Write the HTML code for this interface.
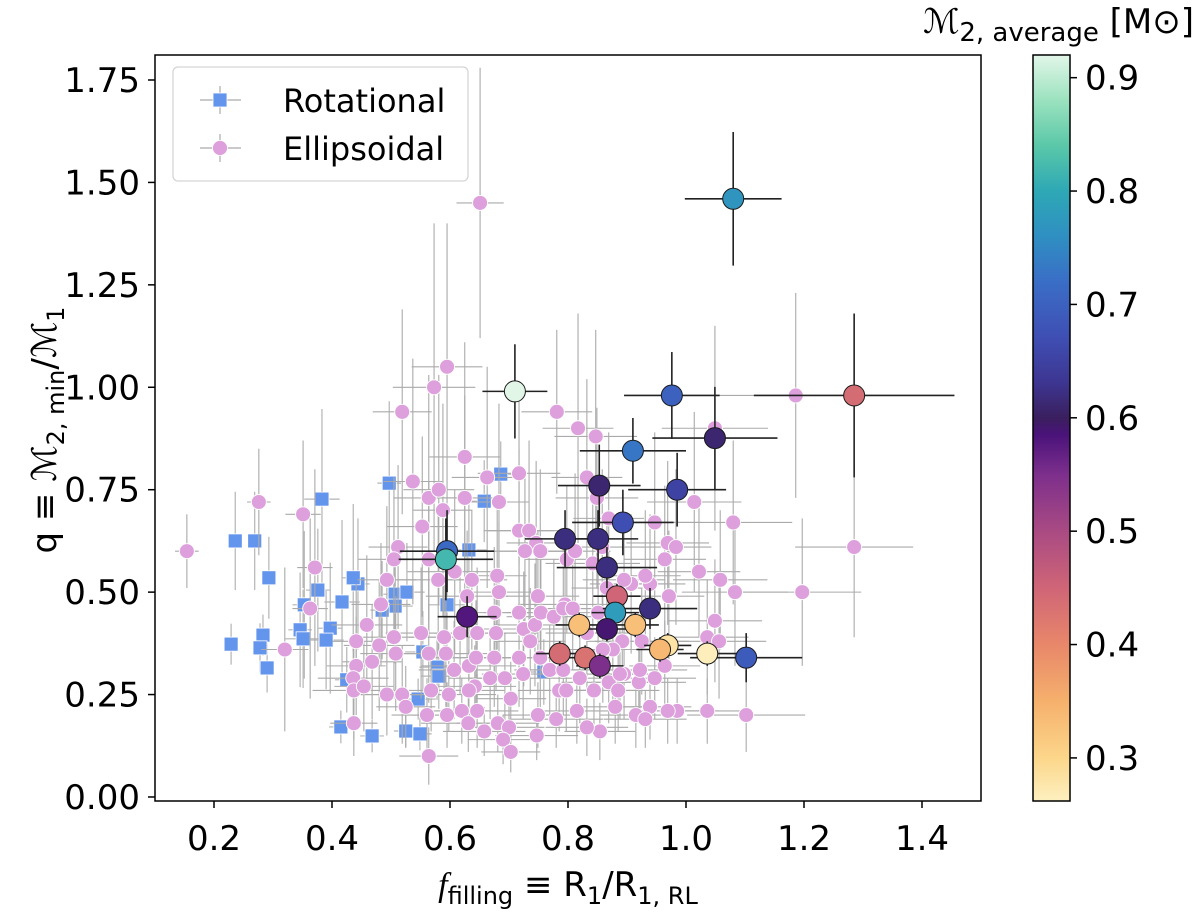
<!DOCTYPE html>
<html><head><meta charset="utf-8"><style>
html,body{margin:0;padding:0;background:#fff;}
svg{display:block;font-family:"DejaVu Sans","Liberation Sans",sans-serif;}
</style></head><body>
<svg id="chart" width="1200" height="912" viewBox="0 0 1200 912" xmlns="http://www.w3.org/2000/svg">
<defs>
<linearGradient id="cgrad" x1="0" y1="0" x2="0" y2="1"></linearGradient>
<clipPath id="plotclip"><rect x="155" y="55" width="826" height="746"/></clipPath>
</defs>
<rect x="0" y="0" width="1200" height="912" fill="#fff"/>
<g id="errs-rot" clip-path="url(#plotclip)"></g>
<g id="marks-rot"></g>
<g id="errs-ell" clip-path="url(#plotclip)"></g>
<g id="marks-ell"></g>
<g id="errs-big" clip-path="url(#plotclip)"></g>
<g id="marks-big"></g>
<rect x="155" y="55" width="826" height="746" fill="none" stroke="#000" stroke-width="1.5"/>
<g id="xticks"></g>
<g id="yticks"></g>
<text x="568" y="896" text-anchor="middle" font-size="34"><tspan font-style="italic" font-family="Liberation Serif, DejaVu Serif, serif">f</tspan><tspan font-size="24" dy="8">filling</tspan><tspan dy="-8"> ≡ R</tspan><tspan font-size="24" dy="8">1</tspan><tspan dy="-8">/R</tspan><tspan font-size="24" dy="8">1, RL</tspan></text>
<text transform="translate(56,430) rotate(-90)" text-anchor="middle" font-size="34">q ≡ <tspan font-style="italic">ℳ</tspan><tspan font-size="24" dy="8">2, min</tspan><tspan dy="-8">/</tspan><tspan font-style="italic">ℳ</tspan><tspan font-size="24" dy="8">1</tspan></text>
<g>
<rect x="173" y="67" width="295" height="114" rx="5" fill="#fff" fill-opacity="0.85" stroke="#d5d5d5" stroke-width="1.3"/>
<g>
<line x1="200" y1="100" x2="241" y2="100" stroke="#aaa" stroke-width="1.2"/><line x1="220" y1="86" x2="220" y2="114" stroke="#aaa" stroke-width="1.2"/>
<rect x="213" y="93" width="14" height="14" fill="#6495ed" stroke="#fff" stroke-width="0.8"/>
<text x="283" y="112" font-size="32">Rotational</text></g>
<g>
<line x1="200" y1="148" x2="241" y2="148" stroke="#aaa" stroke-width="1.2"/><line x1="220" y1="134" x2="220" y2="162" stroke="#aaa" stroke-width="1.2"/>
<circle cx="220" cy="148" r="7.5" fill="#dda0dd" stroke="#fff" stroke-width="0.8"/>
<text x="283" y="160" font-size="32">Ellipsoidal</text></g>
</g>
<g>
<rect x="1033" y="55" width="37" height="746" fill="url(#cgrad)" stroke="#000" stroke-width="1.5"/>
<g id="cticks"></g>
<text x="1194" y="33" text-anchor="end" font-size="34"><tspan font-style="italic">ℳ</tspan><tspan font-size="26" dy="8">2, average</tspan><tspan dy="-8"> [M⊙]</tspan></text>
</g>
</svg>
<script>
// ---- data ----
const xTicks = [0.2,0.4,0.6,0.8,1.0,1.2,1.4];
const xTickLabels = ["0.2","0.4","0.6","0.8","1.0","1.2","1.4"];
const yTicks = [0,0.25,0.5,0.75,1.0,1.25,1.5,1.75];
const yTickLabels = ["0.00","0.25","0.50","0.75","1.00","1.25","1.50","1.75"];
const cTicks = [0.3,0.4,0.5,0.6,0.7,0.8,0.9];
const cTickLabels = ["0.3","0.4","0.5","0.6","0.7","0.8","0.9"];

const rotX = [0.236,0.269,0.293,0.383,0.376,0.353,0.417,0.444,0.436,0.497,
  0.507,0.527,0.507,0.485,0.595,0.632,0.658,0.686,0.229,0.283,
  0.278,0.290,0.346,0.351,0.397,0.390,0.554,0.578,0.581,0.546,
  0.759,0.415,0.468,0.525,0.549,0.425,0.593];
const rotY = [0.625,0.625,0.535,0.727,0.505,0.469,0.476,0.520,0.535,0.766,
  0.495,0.500,0.466,0.456,0.469,0.603,0.722,0.788,0.373,0.395,
  0.364,0.315,0.408,0.386,0.412,0.383,0.354,0.317,0.295,0.239,
  0.305,0.171,0.149,0.161,0.154,0.286,0.591];
const rotXerr = [0.01,0.01,0.01,0.03,0.02,0.02,0.03,0.02,0.02,0.02,
  0.02,0.03,0.03,0.02,0.03,0.03,0.03,0.03,0.01,0.01,
  0.01,0.01,0.02,0.03,0.02,0.03,0.03,0.03,0.03,0.03,
  0.03,0.02,0.02,0.02,0.02,0.02,0.02];
const rotYerr = [0.12,0.12,0.10,0.22,0.15,0.18,0.20,0.16,0.18,0.20,
  0.12,0.12,0.14,0.12,0.10,0.12,0.10,0.08,0.05,0.05,
  0.06,0.06,0.14,0.12,0.16,0.12,0.10,0.08,0.08,0.05,
  0.08,0.04,0.04,0.04,0.04,0.08,0.06];

const ellX = [0.154,0.276,0.351,0.371,0.320,0.363,0.519,0.573,0.595,0.625,
  0.537,0.564,0.581,0.588,0.625,0.663,0.683,0.717,0.781,0.553,
  0.512,0.505,0.564,0.493,0.483,0.459,0.441,0.480,0.468,0.505,
  0.508,0.441,0.436,0.437,0.454,0.493,0.519,0.525,0.561,0.437,
  0.564,0.551,0.580,0.608,0.637,0.629,0.590,0.617,0.646,0.564,
  0.593,0.607,0.632,0.644,0.675,0.678,0.680,0.683,0.675,0.668,
  0.693,0.717,0.717,0.725,0.744,0.736,0.749,0.754,0.776,0.724,
  0.703,0.642,0.632,0.598,0.568,0.620,0.646,0.595,0.631,0.681,
  0.700,0.658,0.690,0.703,0.747,0.749,0.780,0.785,0.769,0.753,
  0.717,0.734,0.746,0.727,0.753,0.795,0.817,0.847,0.832,0.849,
  0.869,0.947,0.969,0.983,0.964,1.014,1.049,1.080,1.186,1.285,
  1.197,1.083,1.058,1.022,0.971,1.049,1.036,1.056,1.036,1.102,
  0.985,0.964,0.947,0.920,0.939,0.907,0.931,0.895,0.925,0.895,
  0.880,0.854,0.832,0.815,0.844,0.869,0.939,0.915,0.931,0.797,
  0.798,0.812,0.842,0.858,0.866,0.851,0.792,0.808,0.832,0.892,
  0.876,0.859,0.885,0.820,0.792,0.969,0.888,0.922,0.651];
const ellY = [0.60,0.72,0.69,0.56,0.36,0.46,0.94,1.00,1.05,0.83,
  0.77,0.73,0.75,0.70,0.73,0.78,0.72,0.79,0.94,0.66,
  0.61,0.58,0.58,0.53,0.47,0.42,0.38,0.37,0.33,0.39,
  0.35,0.32,0.29,0.26,0.27,0.25,0.25,0.22,0.20,0.18,
  0.10,0.40,0.53,0.55,0.53,0.49,0.39,0.40,0.40,0.35,
  0.35,0.31,0.32,0.34,0.45,0.40,0.54,0.50,0.34,0.29,
  0.29,0.34,0.45,0.41,0.42,0.38,0.49,0.45,0.44,0.30,
  0.24,0.27,0.26,0.25,0.26,0.21,0.21,0.20,0.18,0.18,
  0.17,0.16,0.14,0.11,0.15,0.20,0.19,0.26,0.31,0.34,
  0.65,0.65,0.62,0.60,0.60,0.47,0.90,0.88,0.78,0.73,
  0.68,0.67,0.62,0.61,0.58,0.72,0.90,0.67,0.98,0.61,
  0.50,0.50,0.53,0.55,0.49,0.43,0.39,0.38,0.21,0.20,
  0.21,0.32,0.29,0.28,0.52,0.52,0.54,0.53,0.38,0.30,
  0.22,0.16,0.17,0.21,0.26,0.28,0.22,0.20,0.19,0.26,
  0.58,0.60,0.57,0.61,0.51,0.45,0.46,0.46,0.40,0.38,
  0.36,0.36,0.26,0.29,0.31,0.21,0.30,0.31,1.45];
const ellXerr = [0.02,0.02,0.03,0.03,0.04,0.03,0.05,0.07,0.06,0.06,
  0.05,0.06,0.06,0.05,0.07,0.06,0.05,0.07,0.06,0.06,
  0.05,0.06,0.07,0.05,0.05,0.06,0.04,0.06,0.05,0.07,
  0.06,0.05,0.06,0.07,0.05,0.06,0.07,0.05,0.06,0.04,
  0.05,0.06,0.07,0.08,0.06,0.07,0.06,0.08,0.07,0.06,
  0.07,0.06,0.08,0.07,0.06,0.07,0.05,0.06,0.08,0.07,
  0.06,0.07,0.06,0.08,0.07,0.06,0.07,0.06,0.08,0.07,
  0.06,0.07,0.06,0.08,0.07,0.06,0.07,0.06,0.08,0.07,
  0.06,0.07,0.06,0.05,0.07,0.06,0.08,0.07,0.06,0.07,
  0.06,0.07,0.05,0.06,0.07,0.08,0.06,0.07,0.06,0.07,
  0.06,0.08,0.07,0.06,0.07,0.08,0.09,0.10,0.13,0.10,
  0.10,0.09,0.08,0.07,0.06,0.08,0.07,0.08,0.07,0.10,
  0.07,0.06,0.07,0.08,0.06,0.07,0.06,0.07,0.08,0.06,
  0.07,0.06,0.07,0.06,0.07,0.08,0.07,0.06,0.07,0.06,
  0.07,0.06,0.08,0.07,0.06,0.07,0.06,0.08,0.07,0.06,
  0.07,0.06,0.07,0.06,0.07,0.06,0.07,0.08,0.04];
const ellYerr = [0.09,0.13,0.18,0.24,0.20,0.22,0.25,0.40,0.35,0.28,
  0.30,0.30,0.28,0.26,0.25,0.27,0.24,0.22,0.20,0.22,
  0.20,0.20,0.19,0.18,0.15,0.17,0.14,0.16,0.14,0.15,
  0.14,0.12,0.11,0.12,0.11,0.10,0.12,0.10,0.09,0.08,
  0.07,0.16,0.18,0.20,0.17,0.16,0.14,0.15,0.16,0.12,
  0.13,0.12,0.13,0.14,0.16,0.14,0.18,0.17,0.12,0.10,
  0.11,0.12,0.15,0.14,0.15,0.13,0.16,0.15,0.14,0.11,
  0.09,0.10,0.10,0.09,0.10,0.08,0.09,0.08,0.07,0.07,
  0.07,0.06,0.06,0.05,0.06,0.08,0.07,0.10,0.11,0.12,
  0.20,0.22,0.20,0.19,0.20,0.17,0.28,0.26,0.24,0.22,
  0.21,0.22,0.20,0.19,0.18,0.22,0.25,0.20,0.25,0.22,
  0.18,0.18,0.17,0.16,0.16,0.15,0.14,0.14,0.08,0.09,
  0.08,0.11,0.10,0.10,0.17,0.17,0.16,0.16,0.13,0.11,
  0.09,0.07,0.07,0.08,0.10,0.10,0.08,0.08,0.07,0.10,
  0.18,0.19,0.18,0.19,0.16,0.15,0.15,0.15,0.14,0.13,
  0.13,0.13,0.10,0.11,0.11,0.08,0.11,0.11,0.33];

const bigX = [0.976,1.049,0.910,0.853,0.985,0.893,0.795,0.851,0.866,0.883,
  0.939,0.880,0.819,0.866,0.914,0.969,0.956,1.036,1.102,0.786,
  0.829,0.854,0.710,0.595,0.593,0.629,1.080,1.285];
const bigY = [0.98,0.876,0.845,0.76,0.75,0.67,0.63,0.63,0.56,0.49,
  0.46,0.45,0.42,0.41,0.42,0.37,0.36,0.35,0.34,0.35,
  0.34,0.32,0.99,0.60,0.58,0.44,1.46,0.98];
const bigMass = [0.70,0.61,0.73,0.61,0.65,0.67,0.62,0.62,0.62,0.45,
  0.62,0.78,0.33,0.59,0.33,0.28,0.34,0.265,0.69,0.44,
  0.43,0.55,0.93,0.71,0.82,0.58,0.77,0.44];
const bigXerr = [0.081,0.106,0.09,0.07,0.083,0.086,0.068,0.068,0.085,0.04,
  0.08,0.04,0.04,0.04,0.04,0.04,0.04,0.05,0.095,0.04,
  0.04,0.04,0.055,0.08,0.08,0.05,0.082,0.17];
const bigYerr = [0.106,0.125,0.08,0.1,0.09,0.08,0.07,0.07,0.05,0.03,
  0.05,0.03,0.03,0.03,0.03,0.03,0.03,0.03,0.06,0.03,
  0.03,0.03,0.115,0.1,0.1,0.05,0.163,0.2];

const cmapVals = [0.262,0.30,0.35,0.40,0.45,0.50,0.55,0.585,0.60,0.63,0.67,0.72,0.76,0.80,0.84,0.88,0.92];
const cmapCols = ["#fdf0bf","#fcd68a","#f5b06c","#e8876a","#cf6577","#a94a83","#7d2f8c","#4a137a","#3a1f5e","#3d3590","#3f4eb3","#3a6ec6","#2f8fc2","#2ea8b5","#5ac8a8","#9be2bf","#e2f6e8"];

// ---- scales ----
const X0=0.1,X1=1.5,Y0=-0.0098,Y1=1.811;
const PL=155,PR=981,PT=55,PB=801;
function sx(v){return PL+(v-X0)/(X1-X0)*(PR-PL);}
function sy(v){return PB-(v-Y0)/(Y1-Y0)*(PB-PT);}
const CMIN=0.262,CMAX=0.92;
function cy(v){return PB-(v-CMIN)/(CMAX-CMIN)*(PB-PT);}
function hex2rgb(h){return [parseInt(h.substr(1,2),16),parseInt(h.substr(3,2),16),parseInt(h.substr(5,2),16)];}
function cmap(v){
  if(v<=cmapVals[0])return cmapCols[0];
  for(let i=1;i<cmapVals.length;i++){
    if(v<=cmapVals[i]){
      const t=(v-cmapVals[i-1])/(cmapVals[i]-cmapVals[i-1]);
      const a=hex2rgb(cmapCols[i-1]),b=hex2rgb(cmapCols[i]);
      return "rgb("+a.map((c,k)=>Math.round(c+(b[k]-c)*t)).join(",")+")";
    }
  }
  return cmapCols[cmapCols.length-1];
}
const NS="http://www.w3.org/2000/svg";
function mk(tag,attrs,parent){const e=document.createElementNS(NS,tag);for(const k in attrs)e.setAttribute(k,attrs[k]);parent.appendChild(e);return e;}

const grad=document.getElementById('cgrad');
for(let i=cmapVals.length-1;i>=0;i--){
  mk('stop',{offset:((CMAX-cmapVals[i])/(CMAX-CMIN)).toFixed(4),'stop-color':cmapCols[i]},grad);
}

function errbar(g,x,y,xe,ye,col,w){
  const l1=mk('line',{x1:sx(x-xe),y1:sy(y),x2:sx(x+xe),y2:sy(y),stroke:col,'stroke-width':w},g);
  
  
  const l2=mk('line',{x1:sx(x),y1:sy(y-ye),x2:sx(x),y2:sy(y+ye),stroke:col,'stroke-width':w},g);
  
  
}

const gre=document.getElementById('errs-rot'),grm=document.getElementById('marks-rot');
rotX.forEach((x,i)=>{errbar(gre,x,rotY[i],rotXerr[i],rotYerr[i],'#b4b4b4',1.2);});
rotX.forEach((x,i)=>{
  const r=mk('rect',{x:sx(x)-7,y:sy(rotY[i])-7,width:14,height:14,fill:'#6495ed',stroke:'#fff','stroke-width':0.8},grm);
  
  
});
const gee=document.getElementById('errs-ell'),gem=document.getElementById('marks-ell');
ellX.forEach((x,i)=>{errbar(gee,x,ellY[i],ellXerr[i],ellYerr[i],'#aaaaaa',1.1);});
ellX.forEach((x,i)=>{
  const c=mk('circle',{cx:sx(x),cy:sy(ellY[i]),r:7.5,fill:'#dda0dd',stroke:'#fff','stroke-width':0.9},gem);
  
  
});
const gbe=document.getElementById('errs-big'),gbm=document.getElementById('marks-big');
bigX.forEach((x,i)=>{errbar(gbe,x,bigY[i],bigXerr[i],bigYerr[i],'#222',1.6);});
bigX.forEach((x,i)=>{
  const c=mk('circle',{cx:sx(x),cy:sy(bigY[i]),r:10.5,fill:cmap(bigMass[i]),stroke:'#1a1a1a','stroke-width':1},gbm);
  
  
});

const gx=document.getElementById('xticks');
xTicks.forEach((t,i)=>{
  const l=mk('line',{x1:sx(t),y1:PB,x2:sx(t),y2:PB+7,stroke:'#000','stroke-width':1.5},gx);
  
  
  const tx=mk('text',{x:sx(t),y:PB+49,'text-anchor':'middle','font-size':34},gx);
  tx.textContent=xTickLabels[i];
  
  
});
const gy=document.getElementById('yticks');
yTicks.forEach((t,i)=>{
  const l=mk('line',{x1:PL-7,y1:sy(t),x2:PL,y2:sy(t),stroke:'#000','stroke-width':1.5},gy);
  
  
  const tx=mk('text',{x:PL-15,y:sy(t)+12,'text-anchor':'end','font-size':34},gy);
  tx.textContent=yTickLabels[i];
  
  
});
const gc=document.getElementById('cticks');
cTicks.forEach((t,i)=>{
  const l=mk('line',{x1:1070,y1:cy(t),x2:1077,y2:cy(t),stroke:'#000','stroke-width':1.5},gc);
  
  
  const tx=mk('text',{x:1085,y:cy(t)+12,'font-size':34},gc);
  tx.textContent=cTickLabels[i];
  
  
});
</script>
</body></html>
